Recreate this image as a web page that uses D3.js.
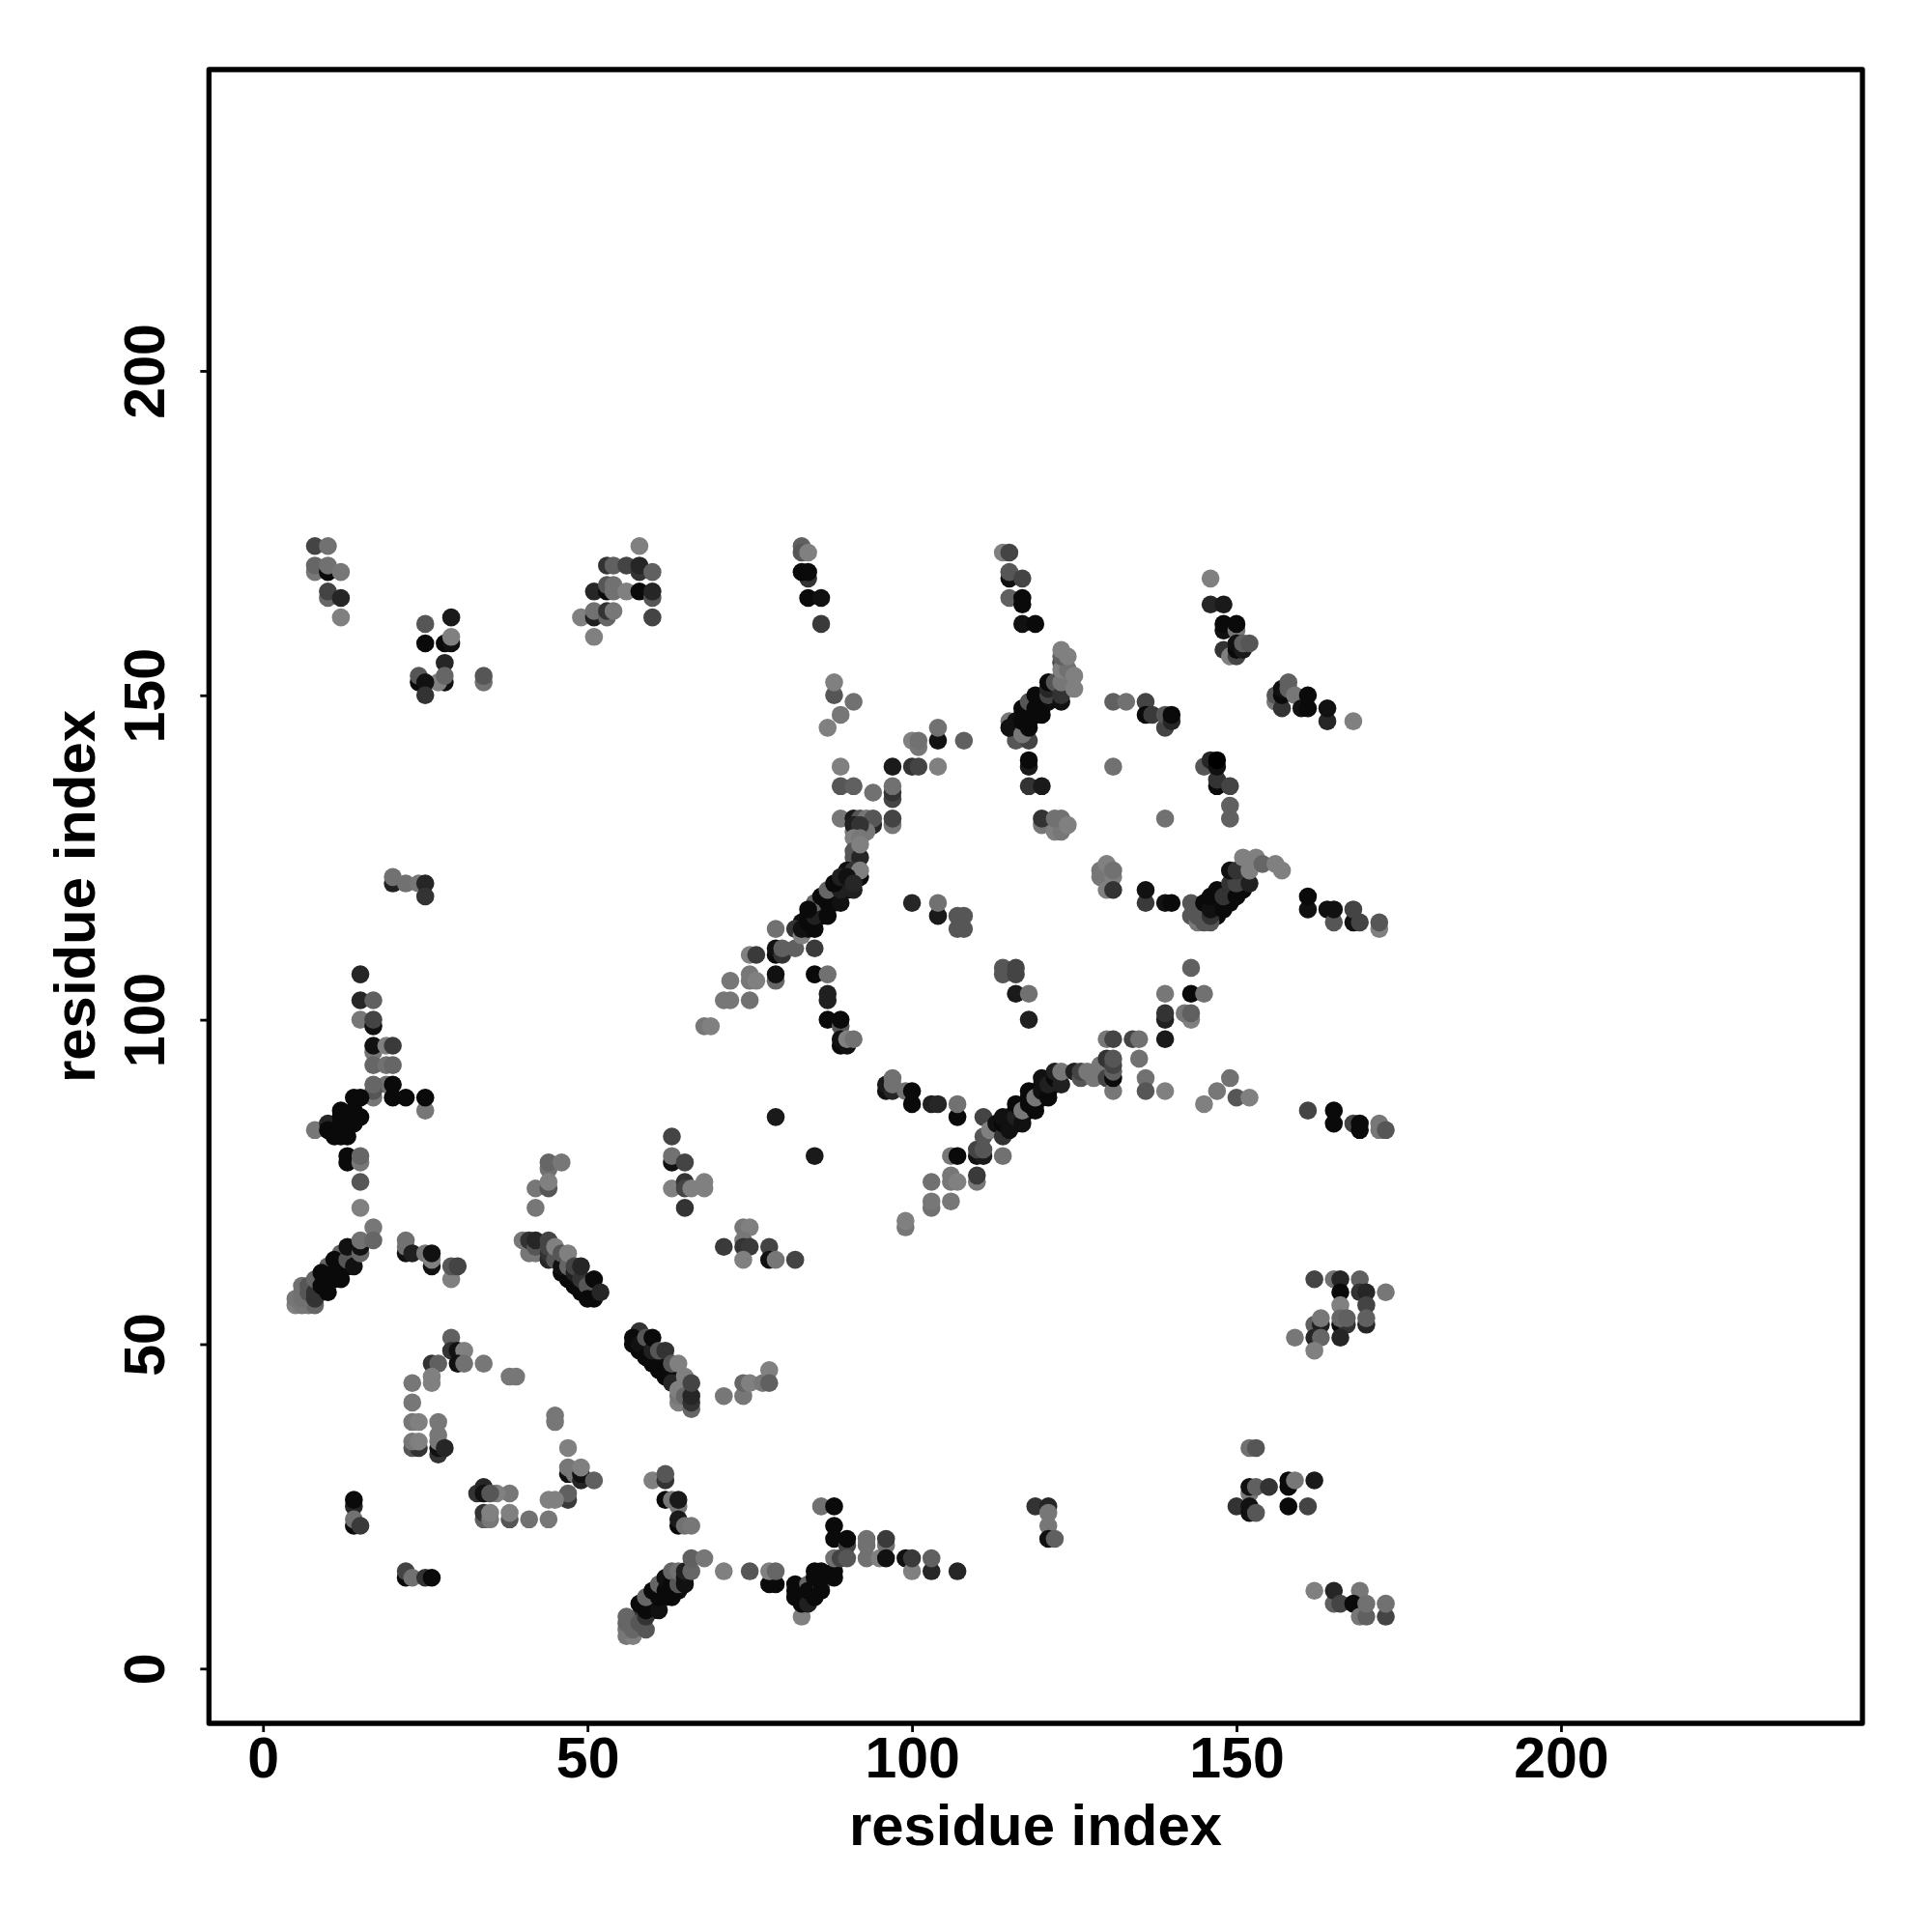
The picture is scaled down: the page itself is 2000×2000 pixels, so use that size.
<!DOCTYPE html>
<html>
<head>
<meta charset="utf-8">
<script src="https://cdnjs.cloudflare.com/ajax/libs/d3/7.8.5/d3.min.js"></script>
<style>html,body{margin:0;padding:0;background:#fff}svg{display:block}</style>
</head>
<body>
<svg id="chart" width="2000" height="2000"></svg>
<script>
// Each contact: [residue i, residue j, score]; score 1 draws black, 0 draws mid grey.
const topLeftA = [[8,169,.07],[8,173,.47],[10,173,.12],[8,170,.2],[10,169,.92],[10,170,.12],[12,169,.07],[10,165,.2],[10,166,.47],[12,165,.7],[12,162,0]];
const topLeftB = [[25,161,.33],[29,162,.8],[25,158,.92],[28,158,.92],[29,158,.87],[29,159,0],[28,155,.7],[28,152,.87],[27,152,0],[28,153,.2],[24,152,.92],[24,153,.33],[25,152,.87],[25,150,.6],[34,152,.12],[34,153,.33]];
const topLeftC = [[58,173,0],[53,170,.6],[54,170,.25],[56,170,.47],[58,169,.6],[58,170,.7],[60,169,.25],[51,166,.7],[53,166,.92],[53,167,.33],[54,167,.12],[54,166,.12],[56,166,0],[58,166,.92],[60,165,.33],[60,166,.7],[49,162,0],[51,162,.75],[51,163,.12],[53,162,.2],[53,163,.6],[54,163,.07],[60,162,.47],[51,159,0]];
const shortD = [[20,121,.75],[20,122,.12],[22,121,.12],[24,121,.07],[25,121,.7],[25,119,.6]];
const helixStemA = [[15,107,.7],[15,103,.7],[17,103,.25],[15,100,.07],[17,99,.87],[17,100,.47],[17,95,.07],[17,96,.87],[19,96,0],[20,96,.55],[17,93,.2],[19,93,.12],[20,93,.2],[19,90,.12],[17,88,.07],[17,89,.33],[17,90,.2],[20,90,.92],[20,88,.92],[22,88,.92],[25,86,.07],[25,88,.92]];
const helixBandA = [[8,83,.07],[10,84,.7],[13,85,.33],[13,84,.47],[10,83,.92],[11,82,.92],[12,82,.92],[13,82,.92],[12,84,.92],[12,85,.92],[12,86,.92],[14,84,.92],[14,86,.92],[15,85,.92],[14,88,.92],[15,88,.92],[13,79,.92],[13,78,.92],[15,78,.07],[15,79,.2],[15,75,.33],[15,71,0],[17,68,.07]];
const helixBandB = [[10,60,.92],[12,62,.92],[14,64,.87],[8,59,.9],[9,60,.92],[10,61,.92],[11,62,.92],[12,63,.92],[13,64,.9],[11,60,.92],[13,62,.92],[9,58,.9],[5,56,0],[5,57,.07],[6,56,.07],[7,56,.07],[8,56,.2],[6,57,.12],[6,58,.12],[6,59,.12],[7,59,.33],[7,58,.33],[8,57,.6],[8,58,.6],[8,60,.2],[10,62,.2],[12,64,.2],[9,59,.92],[9,61,.92],[10,58,.92],[11,61,.92],[11,63,.92],[12,60,.92],[13,63,.33],[13,65,.87],[14,62,.87],[15,64,.2],[15,65,.87],[15,66,.12],[17,66,.2]];
const shortE = [[22,64,.87],[22,65,.12],[22,66,.12],[23,64,.75],[25,64,.07],[26,62,.87],[26,63,0],[26,64,.87],[29,60,0],[29,62,.33],[30,62,.47]];
const bandF = [[47,60,.92],[49,58,.92],[50,58,.92],[47,61,.9],[49,59,.9],[40,66,.07],[41,64,.07],[42,64,.07],[41,66,.6],[42,65,.33],[42,66,.7],[44,63,.7],[44,64,.6],[44,65,.47],[44,66,.47],[45,63,.33],[45,65,0],[46,61,.92],[46,62,.87],[46,64,.33],[47,62,.2],[47,64,0],[48,59,.92],[48,61,.75],[48,62,.47],[49,60,.6],[49,62,.7],[50,59,.33],[50,57,.92],[51,57,.92],[51,60,.92],[52,58,.7]];
const clusterG = [[44,77,.12],[44,78,.2],[46,78,.07],[42,74,.07],[44,74,.33],[44,75,0],[42,71,.07]];
const clusterH = [[63,82,.47],[63,78,.87],[63,79,.12],[65,78,.47],[63,74,0],[65,75,.6],[65,74,.47],[66,74,0],[68,74,0],[68,75,0],[65,71,.6]];
const clusterI = [[71,65,.55],[74,68,.07],[75,68,0],[74,66,.07],[74,65,.6],[75,65,.55],[74,63,0],[78,65,.47],[78,63,.87],[79,63,.07],[82,63,.47]];
const arcJ = [[58,49,.92],[60,47,.92],[62,45,.92],[59,49,.9],[61,47,.9],[62,47,.9],[63,45,.9],[58,51,.7],[58,52,.6],[57,50,.92],[57,51,.92],[58,50,.87],[59,48,.92],[59,51,.33],[60,49,.75],[60,51,.92],[61,46,.92],[61,49,.33],[62,49,.6],[63,44,.7],[63,47,.33],[64,47,0],[65,44,.47],[65,45,0],[64,41,0],[64,42,.07],[64,43,0],[65,42,.2],[66,40,.2],[66,41,.6],[66,42,.7],[66,44,.47]];
const shortK = [[71,42,.07],[74,42,.07],[74,44,.2],[75,44,0],[77,44,.07],[78,46,0],[78,44,.25]];
const ringL = [[29,51,.25],[29,49,.6],[30,49,.87],[31,49,0],[30,47,.87],[31,47,.12],[26,47,.6],[27,47,.25],[34,47,.07],[38,45,.07],[39,45,.07],[26,44,0],[26,45,0],[23,44,.07],[23,41,.07],[23,38,.07],[24,38,0],[27,38,.07],[23,34,.33],[24,34,.6],[23,35,.07],[24,35,0],[27,33,.6],[27,34,.87],[27,35,.07],[27,36,.07],[28,34,.7]];
const ringM = [[45,38,.07],[45,39,.07],[47,34,0],[47,30,.87],[47,31,.07],[48,30,.07],[49,29,.7],[49,30,.87],[49,31,0],[51,29,.25],[47,26,.55],[47,27,.25],[44,26,0],[45,26,0],[41,23,.12],[44,23,.07],[38,27,.07],[36,27,0],[33,27,.6],[34,28,.7],[34,27,.87],[35,27,.33],[34,23,.25],[34,24,.6],[35,23,.07],[35,24,0],[38,23,.33],[38,24,0]];
const shortN = [[14,25,.7],[14,26,.92],[14,22,.92],[14,23,.12],[15,22,.55],[22,14,.92],[22,15,.47],[23,14,.12],[25,14,.6],[26,14,.92]];
const clusterO = [[60,29,0],[62,29,.6],[62,30,.33],[62,26,.92],[63,26,.07],[64,25,.07],[64,26,.8],[64,22,.92],[64,23,.8],[65,22,.12],[66,22,.07]];
const bandP = [[60,10,.92],[64,14,.87],[58,8,.6],[60,11,.92],[62,13,.92],[60,9,.87],[62,11,.92],[64,12,.87],[59,10,.9],[61,12,.9],[63,14,.9],[56,5,.07],[57,5,0],[56,6,.07],[56,7,.2],[56,8,.2],[57,6,.2],[58,7,.33],[59,6,.33],[59,8,.6],[58,10,.92],[59,9,.92],[59,11,.2],[60,12,.92],[61,9,.87],[61,11,.92],[61,13,.2],[62,12,.92],[62,14,.87],[63,11,.92],[63,13,.92],[63,15,.2],[64,13,.33],[64,15,.12],[65,13,.87],[65,14,.87],[65,15,.75],[66,15,.2],[66,17,.25],[68,17,.07]];
const arcQ = [[71,15,0],[75,15,.33],[78,13,.92],[79,13,.92],[78,15,0],[79,15,.2],[83,8,0],[82,11,.92],[82,12,.92],[82,13,.92],[83,10,.92],[83,12,.92],[84,10,.75],[84,13,.2],[84,12,.92],[85,11,.92],[86,13,.2],[86,12,.92],[85,14,.92],[85,15,.92],[86,14,.92],[86,15,.92],[88,14,.92],[88,15,.92],[86,25,.12],[88,25,.92],[88,22,.92],[88,20,.92],[90,19,.47],[90,20,.92],[88,17,.12],[89,17,.47],[90,17,.33]];
const arcR = [[93,17,.12],[93,19,.12],[93,20,.12],[95,17,0],[96,19,.12],[96,17,.87],[96,20,.55],[99,17,.87],[100,15,0],[100,17,.55],[103,15,.7],[103,17,.25],[107,15,.7],[119,25,.6],[121,25,.7],[121,24,.07],[121,22,.07],[121,20,.87],[122,20,.25]];
const helixS = [[89,136,.33],[91,136,.25],[94,135,.12],[97,134,.47],[97,135,.6],[97,136,.12],[88,150,.33],[88,152,0],[91,149,.12],[89,147,.07],[87,145,0],[104,143,.87],[104,145,.12],[100,143,0],[101,142,.07],[101,143,.12],[108,143,.25],[89,139,0],[97,139,.8],[100,139,.6],[101,139,.47],[104,139,0]];
const helixT = [[89,131,.07],[91,131,.8],[92,131,.33],[93,131,.07],[94,130,.7],[94,131,.33],[97,130,.07],[97,131,.47],[91,129,.07],[92,129,.6],[93,129,.07],[91,130,.75],[92,130,.6],[91,128,0],[92,128,.07],[91,126,.33],[91,125,.33],[92,125,.7],[92,127,0],[90,123,.87],[91,123,.6],[92,122,.92],[92,123,0]];
const helixU = [[86,117,.92],[88,119,.92],[90,120,.9],[85,117,.92],[86,118,.92],[87,119,.92],[88,120,.92],[89,121,.92],[90,121,.9],[84,116,.92],[83,115,.9],[86,116,.92],[88,118,.92],[68,99,.07],[69,99,0],[71,103,.07],[72,103,.07],[72,106,.07],[75,103,.12],[75,106,.07],[75,107,.07],[76,106,0],[79,106,.2],[79,107,.87],[75,110,0],[76,110,.55],[79,114,.12],[79,110,.92],[79,111,.87],[80,110,.6],[80,111,.25],[82,111,.25],[85,111,.55],[82,114,.6],[83,113,0],[83,114,.87],[84,114,.87],[84,115,.92],[85,114,.92],[85,116,.75],[85,118,.2],[84,117,.92],[87,116,.92],[87,118,.92],[86,119,.92],[87,120,.2],[89,118,.87],[89,120,.75],[88,121,.92],[89,122,.75],[90,122,.87],[91,120,.75],[91,121,.7]];
const turnV = [[85,107,.92],[87,107,.12],[87,103,.75],[87,104,.75],[87,100,.92],[89,99,.33],[89,100,.92],[89,96,.92],[90,96,.87],[89,97,.87],[90,97,0],[91,97,.12]];
const spotsW = [[100,118,.7],[104,116,.8],[104,118,.12],[107,114,.33],[108,114,.33],[107,116,.33],[108,116,.33],[114,107,.33],[114,108,.33],[116,107,.47],[116,108,.47],[116,104,.8],[118,104,.12],[118,100,.75]];
const bandX = [[96,89,.87],[96,90,.8],[97,89,.7],[97,90,.12],[97,91,.12],[99,89,.12],[100,87,.92],[100,89,.92],[103,87,.75],[104,87,.7],[107,85,.92],[107,87,.12],[111,85,.47],[79,85,.8],[85,79,.8],[106,79,.07],[107,79,.92],[110,79,.87],[111,79,.8],[110,80,.47],[111,80,.33],[111,82,.33],[112,83,0],[114,79,.12],[103,75,.12],[106,75,.07],[106,76,.07],[107,75,0],[110,75,.07],[110,76,.55],[103,71,.12],[103,72,.07],[106,72,.07],[99,68,.07],[99,69,0]];
const bandY = [[115,84,.92],[116,86,.92],[117,85,.92],[118,88,.92],[119,87,.92],[120,90,.92],[121,89,.92],[122,90,.92],[115,85,.92],[116,84,.92],[118,86,.92],[120,88,.92],[113,84,.87],[114,82,.6],[114,84,.92],[114,85,.87],[115,83,.87],[116,85,.75],[117,84,.87],[116,87,.92],[117,86,.07],[118,87,.92],[119,86,.92],[118,89,.92],[119,88,.07],[120,89,.87],[120,91,.87],[121,88,.92],[121,90,.75],[122,91,.92],[123,90,.75],[122,92,.75],[123,92,.07],[125,92,.75],[126,91,.33],[126,92,.47],[127,92,.07],[128,91,.07],[129,93,.07],[130,91,.47],[130,94,.6],[130,97,.07],[131,97,.47],[131,89,.07],[131,91,.92],[131,92,.25],[131,93,.47],[131,94,.33]];
const spotsZ = [[134,97,.47],[135,97,.12],[139,97,.8],[139,100,.75],[139,101,.6],[139,104,.07],[143,104,.92],[145,104,.12],[143,100,0],[142,101,.07],[143,101,.25],[143,108,.25],[135,94,.12],[136,91,.12],[136,89,.33],[139,89,0],[145,87,0],[147,89,.07],[149,91,.12],[150,88,.33],[152,88,0],[161,86,.47],[165,84,.92],[165,86,.92],[168,84,.47],[169,83,.92],[169,84,.92],[172,83,.07],[172,84,.07],[173,83,.33]];
const lowerRightA = [[162,60,.47],[165,60,.12],[166,60,.7],[169,60,.25],[166,58,.92],[169,58,.6],[170,58,.7],[173,58,.07],[166,56,0],[170,56,.47],[162,53,.25],[163,53,.75],[163,54,.07],[166,53,.92],[167,53,.6],[166,54,.2],[167,54,.25],[170,53,.7],[170,54,.25],[159,51,.07],[162,51,.7],[163,51,.2],[166,51,.7],[162,49,0]];
const lowerRightB = [[152,34,.12],[153,34,.33],[158,28,.92],[158,29,.92],[159,29,.07],[162,29,.8],[152,27,.07],[152,28,.87],[153,28,.25],[155,28,.6],[150,25,.6],[152,24,.87],[152,25,.87],[153,24,.33],[158,25,.92],[161,25,.47]];
const lowerRightC = [[162,12,0],[165,10,.25],[165,12,.7],[166,10,.47],[169,12,.07],[168,10,.92],[169,8,.07],[170,8,.25],[170,10,.12],[173,8,.47],[173,10,.12]];
const upperO = [[83,173,.25],[83,172,.33],[84,172,0],[84,168,.6],[83,169,.92],[84,169,.92],[84,165,.92],[86,165,.87],[86,161,.55],[114,172,0],[115,172,.47],[115,168,.87],[115,169,.33],[117,168,.47],[115,165,.25],[117,164,.92],[117,165,.92],[117,161,.87],[119,161,.92]];
const helixUpper = [[116,145,.92],[118,147,.92],[120,149,.92],[122,151,.87],[119,149,.92],[117,147,.92],[120,148,.92],[118,146,.92],[116,144,.9],[121,149,.9],[119,147,.92],[116,143,.33],[118,143,.47],[115,146,.07],[115,145,.87],[116,146,.87],[117,144,.07],[117,146,.92],[118,145,.92],[117,148,.92],[118,149,.33],[119,148,.92],[120,147,.92],[119,150,.92],[121,150,.47],[121,151,.7],[121,152,.92],[122,152,.33],[123,149,.87],[123,150,.6],[123,152,.07],[123,155,.47],[123,154,0],[124,154,.12],[125,151,0],[125,153,0],[123,156,.25],[123,157,0],[124,156,0]];
const ringB = [[118,139,.8],[118,140,.92],[118,136,.6],[120,136,.8],[120,130,.07],[120,131,.6],[122,129,0],[123,129,.07],[122,131,.12],[123,131,.12],[124,130,0],[131,139,.12],[139,131,.12],[131,149,.25],[133,149,.12],[136,149,.47],[136,147,.92],[137,147,.55],[139,145,.47],[139,147,.33],[140,146,.7],[140,147,.92]];
const ringC = [[146,168,0],[146,164,.7],[148,164,.8],[148,160,.87],[148,161,.92],[150,160,.07],[150,161,.92],[148,157,.6],[149,156,0],[150,156,.47],[150,157,.92],[150,158,.87],[151,157,.8],[151,158,.25],[152,158,.33]];
const ringD = [[156,149,.07],[156,150,.33],[157,148,.6],[157,150,.92],[157,151,.87],[158,151,.25],[158,152,.25],[159,150,.07],[160,148,.87],[161,148,.92],[161,150,.92],[164,146,.7],[164,148,.87],[168,146,0]];
const ringE = [[145,139,.33],[146,140,.7],[147,136,.92],[147,137,.6],[147,139,.87],[147,140,1],[149,136,.47],[149,133,.25],[149,131,.25]];
const bandLowerR = [[147,118,.92],[148,118,.92],[149,120,.92],[150,120,.92],[151,122,.87],[151,120,.92],[149,118,.92],[147,116,.92],[147,119,.92],[145,116,.9],[146,118,.92],[129,122,.07],[129,123,.07],[130,124,0],[131,122,0],[131,123,.12],[130,120,0],[131,120,.6],[136,118,.55],[136,120,.87],[139,118,.87],[140,118,.92],[143,116,.33],[143,118,.33],[144,115,.07],[145,115,.33],[146,115,.33],[144,116,.33],[145,118,.92],[146,116,.6],[146,117,.87],[146,119,.92],[147,120,.92],[148,117,.92],[148,119,.6],[149,121,.6],[150,119,.92],[150,121,.47],[149,123,.87],[150,123,.6],[152,121,.75],[151,125,0],[153,125,0],[152,123,0],[154,124,.2],[156,124,0],[157,123,0]];
const bandLowerS = [[161,117,.87],[161,119,.92],[164,117,.87],[165,115,.33],[165,117,.87],[168,115,.87],[168,117,.47],[169,115,.47],[172,114,0],[172,115,.33]];

const contactGroups = [topLeftA, topLeftB, topLeftC, shortD, helixStemA, helixBandA, helixBandB, shortE, bandF, clusterG, clusterH, clusterI, arcJ, shortK, ringL, ringM, shortN, clusterO, bandP, arcQ, arcR, helixS, helixT, helixU, turnV, spotsW, bandX, bandY, spotsZ, lowerRightA, lowerRightB, lowerRightC, upperO, helixUpper, ringB, ringC, ringD, ringE, bandLowerR, bandLowerS];

const xTicks = [0, 50, 100, 150, 200];
const yTicks = [0, 50, 100, 150, 200];
const xTitle = "residue index";
const yTitle = "residue index";

const frame = {left: 216.3, right: 1928, top: 72, bottom: 1784};
const x = d3.scaleLinear().domain([-8.33, 246.45]).range([frame.left, frame.right]);
const y = d3.scaleLinear().domain([-8.44, 246.44]).range([frame.bottom, frame.top]);
const grey = d3.scaleLinear().domain([0, 1]).range(["#808080", "#000000"]);

const font = '"Liberation Sans", Arial, sans-serif';
const svg = d3.select("#chart");
svg.append("rect").attr("width", 2000).attr("height", 2000).attr("fill", "#fff");

svg.append("g").selectAll("circle")
  .data(contactGroups.flat())
  .join("circle")
  .attr("cx", d => x(d[0]))
  .attr("cy", d => y(d[1]))
  .attr("r", 9.3)
  .attr("fill", d => grey(d[2]));

svg.append("rect")
  .attr("x", frame.left).attr("y", frame.top)
  .attr("width", frame.right - frame.left).attr("height", frame.bottom - frame.top)
  .attr("fill", "none").attr("stroke", "#000").attr("stroke-width", 5.3)
  .attr("stroke-linejoin", "round");

const gx = svg.append("g").attr("transform", `translate(0,${frame.bottom})`)
  .call(d3.axisBottom(x).tickValues(xTicks).tickSize(9).tickFormat(d3.format("d")));
const gy = svg.append("g").attr("transform", `translate(${frame.left},0)`)
  .call(d3.axisLeft(y).tickValues(yTicks).tickSize(9).tickFormat(d3.format("d")));
[gx, gy].forEach(g => {
  g.select(".domain").remove();
  g.selectAll("line").attr("stroke", "#000").attr("stroke-width", 2.8);
  g.selectAll("text").attr("font-family", font).attr("font-weight", "bold")
    .attr("font-size", 59).attr("fill", "#000");
});
gx.selectAll("text").attr("y", 56).attr("dy", 0).attr("text-anchor", "middle");
gy.selectAll("text").attr("x", 0).attr("y", 0).attr("dy", 0).attr("text-anchor", "middle")
  .attr("transform", "translate(-46,0) rotate(-90)");

svg.append("text").attr("x", 1072).attr("y", 1910)
  .attr("text-anchor", "middle").attr("font-family", font).attr("font-weight", "bold")
  .attr("font-size", 59.9).text(xTitle);
svg.append("text").attr("transform", "translate(98,928) rotate(-90)")
  .attr("text-anchor", "middle").attr("font-family", font).attr("font-weight", "bold")
  .attr("font-size", 59.9).text(yTitle);
</script>
</body>
</html>
